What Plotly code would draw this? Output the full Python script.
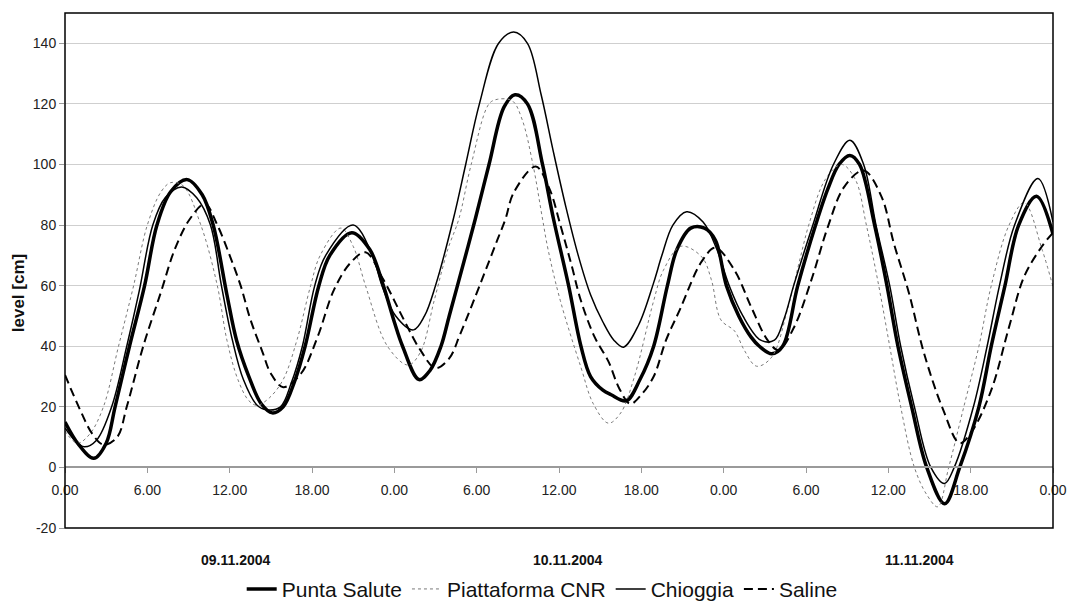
import plotly.graph_objects as go

# ---- data (hours from 09.11.2004 00:00, level in cm) ----
ps_t = [0, 1.0, 2.1, 3.0, 3.65, 4.7, 5.8, 6.7, 7.7, 8.9, 10.0, 10.8, 11.8, 12.5, 13.4, 14.3, 15.1, 15.9, 16.7, 17.5,
        18.5, 19.3, 20.9, 22.2, 23.2, 24.0, 24.6, 25.8, 26.6, 27.4, 28.0, 28.6, 29.9, 30.9, 32.0, 32.8, 33.7, 34.8,
        35.6, 36.7, 37.6, 38.3, 39.2, 39.8, 40.9, 41.9, 42.9, 43.9, 44.6, 45.6, 46.6, 47.4, 48.2, 49.1, 50.0, 50.6,
        51.5, 52.3, 53.4, 54.7, 55.6, 56.4, 57.2, 57.9, 59.0, 59.9, 60.7, 61.7, 62.8, 64.1, 65.2, 66.6, 67.5, 68.5,
        69.5, 70.8, 72]
ps_v = [15, 7.5, 3, 8, 20, 40, 60, 80, 91, 95, 90, 80, 57, 42, 30, 21, 18, 20, 28, 40,
        60, 70, 77.5, 72, 60, 48, 40, 29, 32, 40, 50, 60, 82, 100, 119, 123, 120, 100,
        82, 60, 40, 30, 25.5, 24, 22, 29, 40, 60, 72, 79, 79, 75, 60, 50, 43, 40,
        37.5, 40, 60, 80, 92, 100, 103, 100, 80, 60, 40, 20, 0, -12, 0, 20, 40, 60,
        80, 89.5, 77]

cnr_t = [0, 0.9, 1.8, 2.8, 3.9, 5.0, 6.0, 7.0, 7.7, 8.6, 9.9, 11.1, 11.8, 12.6, 13.4, 14.0, 14.9, 15.9, 16.9, 17.9,
         18.6, 20.1, 21.0, 21.9, 23.5, 25.0, 25.9, 26.9, 27.9, 28.7, 29.6, 30.9, 31.5, 32.6, 33.3, 34.1, 34.8, 35.2,
         36.1, 37.6, 38.5, 39.6, 40.5, 41.5, 42.9, 43.6, 44.9, 46.4, 47.1, 47.8, 48.8, 49.5, 50.4, 51.5, 52.7, 53.6,
         54.2, 55.4, 56.6, 57.6, 58.4, 59.3, 60.1, 60.9, 61.9, 62.8, 63.6, 64.4, 65.5, 66.6, 67.5, 68.8, 69.9, 71.2, 72]
cnr_v = [12, 8, 11, 20, 40, 60, 80, 91, 94, 93, 80, 60, 42, 29, 22, 20.5, 23, 29, 42, 60,
         70, 79, 73, 60, 40, 33.8, 38, 55, 72, 82, 100, 120, 121.5, 121, 115, 100, 82, 72,
         55, 33, 21, 14.6, 18, 30, 55, 65, 73, 69.5, 62, 48.7, 45, 38.7, 33.4, 36.4, 53, 69.5,
         80, 95, 100, 95, 80, 60, 40, 20, 0, -9, -13, 0, 20, 40, 60, 80, 87.4, 72, 59.6]

ch_t = [0, 0.7, 1.4, 2.3, 3.4, 4.5, 5.4, 6.4, 7.3, 8.5, 9.6, 10.6, 11.4, 12.2, 13.0, 14.0, 14.7, 15.7, 16.5, 17.3,
        18.2, 19.0, 21.0, 22.4, 23.1, 24.1, 25.4, 26.2, 27.0, 28.3, 29.2, 30.2, 31.6, 32.7, 33.7, 34.7, 35.6, 36.5,
        37.4, 38.3, 39.2, 40.0, 40.7, 41.8, 42.9, 43.5, 44.3, 45.3, 46.5, 47.5, 48.4, 49.4, 50.7, 51.7, 52.4, 53.1,
        54.5, 56.0, 57.2, 58.2, 59.1, 60.1, 60.9, 61.9, 63.1, 64.1, 64.8, 66.2, 67.2, 68.1, 69.2, 70.9, 72]
ch_v = [13, 9, 6.8, 9, 20, 40, 58, 80, 89, 92.6, 89, 80, 60, 42, 29, 20.5, 19, 20, 28, 40,
        60, 70, 80, 70, 60, 50, 45.4, 50, 60, 82, 100, 120, 140, 143.7, 140, 123, 104, 86,
        70, 57, 48, 42, 39.7, 47, 61, 70, 80, 84.4, 81, 72, 60, 50, 42, 42, 49, 60,
        80, 100, 108, 100, 80, 60, 40, 20, 0, -5.3, 0, 20, 40, 60, 80, 95.4, 81]

sa_t = [0, 1.1, 2.0, 2.8, 3.8, 4.5, 5.7, 7.0, 8.0, 9.1, 10.2, 11.1, 12.0, 12.8, 13.5, 14.4, 15.0, 15.9, 17.2, 18.4,
        19.6, 20.8, 21.9, 23.2, 24.7, 25.9, 27.0, 28.0, 28.8, 30.3, 31.5, 32.1, 32.7, 34.3, 35.3, 36.1, 36.9, 37.6,
        38.6, 39.6, 40.4, 41.2, 42.0, 42.9, 43.8, 44.8, 46.4, 47.4, 48.8, 50.0, 51.2, 52.0, 53.1, 54.4, 55.6, 56.8,
        58.2, 59.5, 60.4, 61.5, 62.6, 64.0, 65.2, 66.1, 67.5, 68.8, 69.9, 71.2, 72]
sa_v = [30.5, 19, 11, 7.5, 10, 20, 40, 58, 72, 82, 87, 80, 70, 60, 49, 38, 31, 26.5, 31, 43,
        58.6, 67.5, 71, 62, 48.7, 38.7, 32.8, 36, 44, 61, 75, 82, 90.7, 99.3, 92, 80, 67, 55,
        43, 35, 26, 21, 24, 30, 42, 52, 68, 72.5, 65, 53, 42, 38.7, 46, 62, 79.5, 92.7,
        98, 89.4, 74, 57.6, 37.7, 19, 8, 12, 25.5, 46.4, 63, 73, 77.5]

x_tickvals = [0, 6, 12, 18, 24, 30, 36, 42, 48, 54, 60, 66, 72]
x_ticktext = ["0.00", "6.00", "12.00", "18.00", "0.00", "6.00", "12.00", "18.00",
              "0.00", "6.00", "12.00", "18.00", "0.00"]
y_tickvals = [-20, 0, 20, 40, 60, 80, 100, 120, 140]
y_ticktext = ["-20", "0", "20", "40", "60", "80", "100", "120", "140"]
day_labels = ["09.11.2004", "10.11.2004", "11.11.2004"]
day_label_x = [0.173, 0.509, 0.865]

FONT = "Liberation Sans, Arial, sans-serif"

fig = go.Figure()
fig.add_trace(go.Scatter(x=ps_t, y=ps_v, name="Punta Salute", mode="lines",
                         line=dict(color="black", width=3.5, shape="spline")))
fig.add_trace(go.Scatter(x=cnr_t, y=cnr_v, name="Piattaforma CNR", mode="lines",
                         line=dict(color="#7a7a7a", width=1, dash="3px,3px", shape="spline")))
fig.add_trace(go.Scatter(x=ch_t, y=ch_v, name="Chioggia", mode="lines",
                         line=dict(color="black", width=1.5, shape="spline")))
fig.add_trace(go.Scatter(x=sa_t, y=sa_v, name="Saline", mode="lines",
                         line=dict(color="black", width=2, dash="9px,5px", shape="spline")))

fig.update_layout(
    width=1068, height=604,
    margin=dict(l=65, r=15, t=13, b=76, autoexpand=False),
    plot_bgcolor="white", paper_bgcolor="white",
    font=dict(family=FONT, color="#111"),
    showlegend=True,
    legend=dict(orientation="h", x=0.483, xanchor="center", y=-0.119, yanchor="middle",
                font=dict(size=21, family=FONT, color="#111"), bgcolor="rgba(0,0,0,0)",
                itemwidth=30, tracegroupgap=0),
    xaxis=dict(range=[0, 72], tickvals=x_tickvals, ticktext=x_ticktext,
               anchor="free", position=20 / 170,
               showline=True, linecolor="#9a9a9a", linewidth=1.5,
               ticks="outside", ticklen=5, tickcolor="#9a9a9a", tickwidth=1,
               showgrid=False, zeroline=False,
               tickfont=dict(size=14, family=FONT, color="#222"), ticklabelstandoff=5),
    yaxis=dict(range=[-20, 150], tickvals=y_tickvals, ticktext=y_ticktext,
               ticks="outside", ticklen=5, tickcolor="#9a9a9a",
               showgrid=True, gridcolor="#cfcfcf", gridwidth=1,
               zeroline=False, showline=False,
               tickfont=dict(size=14, family=FONT, color="#222")),
    shapes=[dict(type="rect", xref="paper", yref="paper", x0=0, x1=1, y0=0, y1=1,
                 line=dict(color="black", width=1.5), layer="above")],
)

annotations = []
for lbl, xp in zip(day_labels, day_label_x):
    annotations.append(dict(text="<b>%s</b>" % lbl, x=xp, y=-0.062, xref="paper", yref="paper",
                            showarrow=False, xanchor="center", yanchor="middle",
                            font=dict(size=14, family=FONT, color="#111")))
annotations.append(dict(text="<b>level [cm]</b>", x=-0.047, y=0.455, xref="paper", yref="paper",
                        showarrow=False, textangle=-90, xanchor="center", yanchor="middle",
                        font=dict(size=17, family=FONT, color="#111")))
fig.update_layout(annotations=annotations)

fig.write_html("out.html")
